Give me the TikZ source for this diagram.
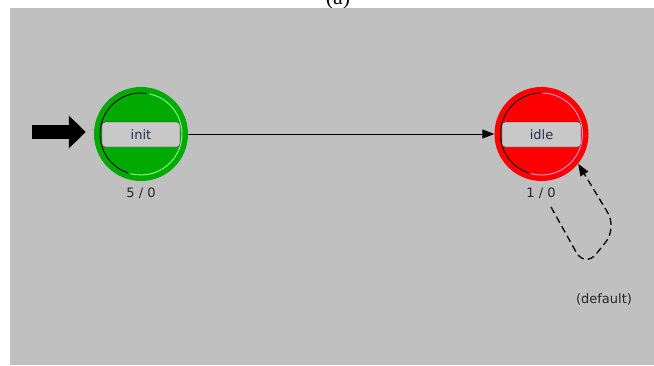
\documentclass[tikz,border=0pt]{standalone}
\usepackage{fontspec}
\newfontfamily\guifont{DejaVu Sans}
\newfontfamily\capfont{Liberation Serif}
\usepackage{xcolor}
\definecolor{ColBg}{RGB}{192,192,192}
\definecolor{ColInit}{RGB}{0,170,0}
\definecolor{ColInitHi}{RGB}{150,255,150}
\definecolor{ColIdle}{RGB}{255,0,0}
\definecolor{ColIdleHi}{RGB}{255,150,210}
\definecolor{ColBox}{RGB}{200,200,200}
\definecolor{ColTxt}{RGB}{40,45,80}
\usepackage{tikz}
\usetikzlibrary{arrows.meta}
\tikzstyle{State}=[circle,minimum size=94pt,inner sep=0pt]
\tikzstyle{Name}=[draw=black!85,fill=ColBox,rounded corners=3pt,
minimum width=78pt,minimum height=25pt,inner sep=0pt,
font=\guifont\fontsize{13}{13}\selectfont,text=ColTxt]
\tikzstyle{Count}=[font=\guifont\fontsize{13}{13}\selectfont,text=black!85]
\tikzstyle{Rim}=[line width=0.9pt]
\tikzstyle{Edge}=[draw=black,line width=1pt,-{Triangle[length=12pt,width=9pt]}]
\tikzstyle{LoopEdge}=[Edge,line width=1.3pt,dash pattern=on 7pt off 4pt,
rounded corners=18pt]
\tikzstyle{Entry}=[draw=black,line width=14pt,-{Triangle[length=17pt,width=32pt]}]

\begin{document}
\begin{tikzpicture}[x=1pt,y=1pt]
        \useasboundingbox (0,0) rectangle (654,-365);
        \node[font=\capfont\fontsize{22}{22}\selectfont,anchor=base](cap)at(338,-4){(a)};
        \fill[ColBg] (10,-8) rectangle (654,-365);
        \node[State,fill=ColInit](init)at(141,-134){};
        \node[State,fill=ColIdle](idle)at(541.5,-134){};
        \draw[Rim,black] (init.center) ++(82:41) arc[start angle=82,end angle=252,radius=41];
        \draw[Rim,ColInitHi] (init.center) ++(78:41) arc[start angle=78,end angle=-105,radius=41];
        \draw[Rim,black] (idle.center) ++(92:41) arc[start angle=92,end angle=252,radius=41];
        \draw[Rim,ColIdleHi] (idle.center) ++(88:41) arc[start angle=88,end angle=-105,radius=41];
        \node[Name](initname)at(141,-134.5){init};
        \node[Name,minimum width=79pt](idlename)at(541.5,-134.5){idle};
        \node[Count](initcnt)at(141,-193){5 / 0};
        \node[Count](idlecnt)at(541,-193){1 / 0};
        \node[Count](dflt)at(604,-299){(default)};
        \coordinate(start)at(32,-132);
        \draw[Entry,shorten >=8pt](start)--(start-|init.west);
        \draw[Edge](init)--(idle);
        \coordinate(l1)at(551,-207);
        \coordinate(l2)at(585,-268);
        \coordinate(l3)at(617,-228);
        \draw[LoopEdge](l1)--(l2)--(l3)--(idle.-39);
    \end{tikzpicture}
\end{document}
